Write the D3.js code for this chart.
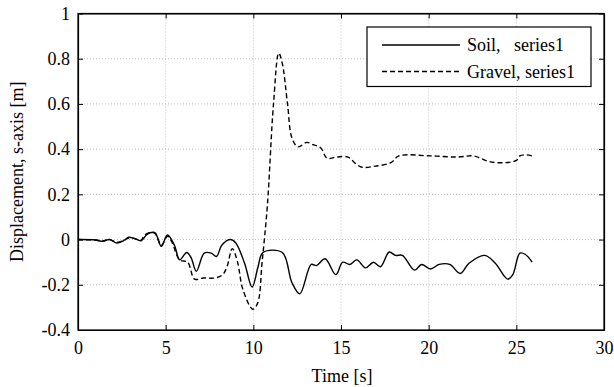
<!DOCTYPE html>
<html>
<head>
<meta charset="utf-8">
<script src="https://cdn.jsdelivr.net/npm/d3@7"></script>
<style>
  body { margin: 0; background: #fff; }
</style>
</head>
<body>
<svg id="chart" width="614" height="387"></svg>
<script>
// time [s] / displacement [m]
const soilT = [0, 1.0, 1.4, 1.8, 2.2, 2.6, 2.9, 3.2, 3.6, 3.9, 4.1, 4.4, 4.75, 5.1, 5.5, 5.8, 6.2, 6.45, 6.75, 7.2, 7.6, 7.9, 8.2, 8.7, 9.0, 9.5, 9.93, 10.27, 10.55, 11.65, 12.2, 12.65, 13.3, 13.6, 14.1, 14.7, 15.1, 15.5, 15.9, 16.4, 16.85, 17.25, 17.75, 18.1, 18.5, 19.2, 19.6, 20.1, 20.6, 21.2, 21.8, 22.3, 23.2, 23.8, 24.5, 24.8, 25.2, 25.5, 25.9];
const soilD = [0, -0.002, -0.008, 0.0, -0.015, -0.005, 0.01, 0.005, -0.005, 0.02, 0.03, 0.03, -0.03, 0.02, -0.025, -0.09, -0.057, -0.08, -0.14, -0.06, -0.06, -0.075, -0.025, 0.0, -0.015, -0.105, -0.21, -0.12, -0.057, -0.057, -0.19, -0.24, -0.11, -0.115, -0.085, -0.155, -0.10, -0.11, -0.09, -0.125, -0.10, -0.12, -0.055, -0.07, -0.07, -0.135, -0.11, -0.13, -0.11, -0.11, -0.15, -0.105, -0.07, -0.105, -0.175, -0.155, -0.06, -0.065, -0.10];

const gravelT = [0, 1.0, 1.4, 1.8, 2.2, 2.6, 2.9, 3.2, 3.6, 3.8, 4.35, 4.75, 5.1, 5.35, 5.8, 6.25, 6.65, 7.15, 7.8, 8.25, 8.5, 8.8, 9.1, 9.4, 9.97, 10.25, 10.5, 10.8, 11.15, 11.45, 11.65, 11.95, 12.2, 12.55, 13.05, 13.4, 13.85, 14.2, 14.75, 15.4, 15.85, 16.2, 16.95, 17.85, 18.3, 20.1, 21.65, 22.55, 23.45, 24.3, 25.0, 25.2, 25.55, 25.9];
const gravelD = [0, -0.002, -0.006, 0.0, -0.012, -0.005, 0.008, 0.005, -0.003, 0.02, 0.03, -0.025, 0.015, -0.01, -0.09, -0.10, -0.175, -0.17, -0.17, -0.155, -0.12, -0.04, -0.10, -0.22, -0.308, -0.28, -0.10, 0.15, 0.60, 0.825, 0.78, 0.60, 0.45, 0.41, 0.43, 0.42, 0.405, 0.36, 0.365, 0.365, 0.335, 0.32, 0.325, 0.34, 0.37, 0.37, 0.365, 0.37, 0.345, 0.34, 0.35, 0.37, 0.375, 0.37];

const xTicks = [0, 5, 10, 15, 20, 25, 30];
const yTicks = [-0.4, -0.2, 0, 0.2, 0.4, 0.6, 0.8, 1];
const legendLabels = ["Soil,   series1", "Gravel, series1"];

const svg = d3.select("#chart");
const plotL = 78, plotR = 604, plotT = 13.5, plotB = 330;
const fs = 18;
const serif = "'Liberation Serif', 'Times New Roman', serif";

const x = d3.scaleLinear().domain([0, 30]).range([plotL, plotR]);
const y = d3.scaleLinear().domain([-0.4, 1]).range([plotB, plotT]);

// grid
const grid = svg.append("g").attr("stroke", "#b0b0b0").attr("stroke-width", 0.8)
  .attr("stroke-dasharray", "1,2");
grid.selectAll(".gx").data(xTicks.slice(1, -1)).join("line")
  .attr("x1", d => x(d)).attr("x2", d => x(d)).attr("y1", plotT).attr("y2", plotB);
grid.selectAll(".gy").data(yTicks.slice(1, -1)).join("line")
  .attr("y1", d => y(d)).attr("y2", d => y(d)).attr("x1", plotL).attr("x2", plotR);

// lines
const line = d3.line().curve(d3.curveCatmullRom.alpha(0.5));
svg.append("path")
  .attr("d", line(soilT.map((t, i) => [x(t), y(soilD[i])])))
  .attr("fill", "none").attr("stroke", "#000").attr("stroke-width", 1.4);
svg.append("path")
  .attr("d", line(gravelT.map((t, i) => [x(t), y(gravelD[i])])))
  .attr("fill", "none").attr("stroke", "#000").attr("stroke-width", 1.4)
  .attr("stroke-dasharray", "5,3");

// axes, ticks pointing inward on all sides
const tick = 5;
const fmt = d => d === 0 ? "0" : (Number.isInteger(d) ? String(d) : d.toFixed(1));
svg.append("g").attr("transform", `translate(0,${plotB})`)
  .call(d3.axisBottom(x).tickValues(xTicks).tickSizeInner(-tick).tickSizeOuter(0).tickPadding(11).tickFormat(fmt));
svg.append("g").attr("transform", `translate(0,${plotT})`)
  .call(d3.axisTop(x).tickValues(xTicks).tickSizeInner(-tick).tickSizeOuter(0).tickFormat(""));
svg.append("g").attr("transform", `translate(${plotL},0)`)
  .call(d3.axisLeft(y).tickValues(yTicks).tickSizeInner(-tick).tickSizeOuter(0).tickPadding(8).tickFormat(fmt));
svg.append("g").attr("transform", `translate(${plotR},0)`)
  .call(d3.axisRight(y).tickValues(yTicks).tickSizeInner(-tick).tickSizeOuter(0).tickFormat(""));
svg.selectAll(".domain").attr("stroke", "#000").attr("stroke-width", 1.2);
svg.selectAll(".tick line").attr("stroke", "#000");
svg.selectAll(".tick text")
  .style("font-family", serif).style("font-size", fs + "px").style("fill", "#000");

svg.append("rect").attr("x", plotL).attr("y", plotT).attr("width", plotR - plotL).attr("height", plotB - plotT)
  .attr("fill", "none").attr("stroke", "#000").attr("stroke-width", 1.2);

// axis titles
svg.append("text").attr("x", (plotL + plotR) / 2 + 1).attr("y", 382).attr("text-anchor", "middle")
  .style("font-family", serif).style("font-size", fs + "px").text("Time [s]");
svg.append("text").attr("transform", `translate(23,${(plotT + plotB) / 2}) rotate(-90)`)
  .attr("text-anchor", "middle").style("font-family", serif).style("font-size", fs + "px")
  .text("Displacement, s-axis [m]");

// legend
const lg = svg.append("g");
lg.append("rect").attr("x", 367).attr("y", 27).attr("width", 224).attr("height", 59.5)
  .attr("fill", "#fff").attr("stroke", "#000").attr("stroke-width", 1.2);
legendLabels.forEach((lab, i) => {
  const ly = 45 + i * 26.5;
  lg.append("line").attr("x1", 382).attr("x2", 460).attr("y1", ly).attr("y2", ly)
    .attr("stroke", "#000").attr("stroke-width", 1.3)
    .attr("stroke-dasharray", i === 1 ? "5,3" : null);
  lg.append("text").attr("x", 467).attr("y", ly + 6)
    .style("font-family", serif).style("font-size", fs + "px")
    .attr("xml:space", "preserve").style("white-space", "pre").text(lab);
});
</script>
</body>
</html>
